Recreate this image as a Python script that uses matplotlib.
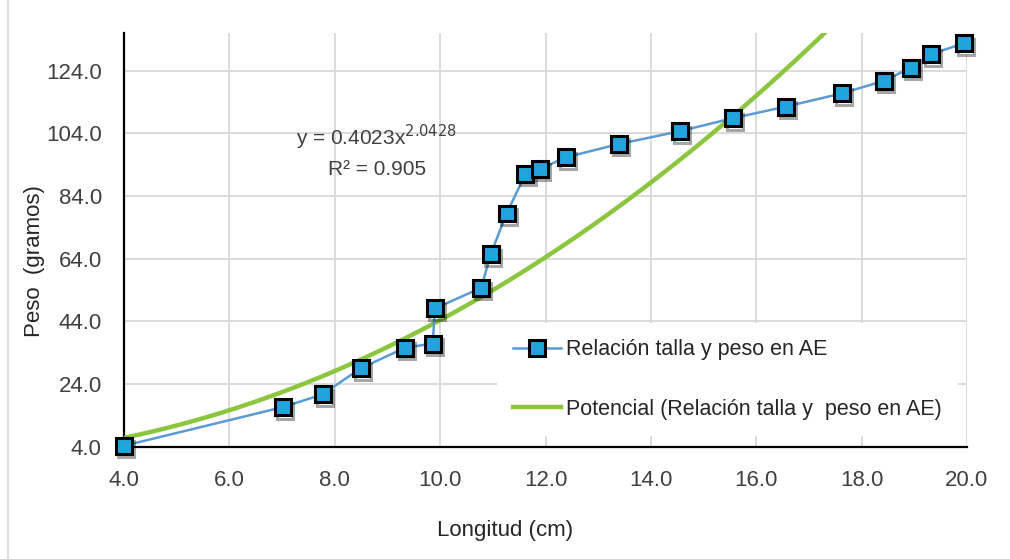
import numpy as np
import matplotlib
matplotlib.use("Agg")
import matplotlib.pyplot as plt
import matplotlib.patheffects as pe

plt.rcParams["font.family"] = ["Liberation Sans", "DejaVu Sans"]

# talla (cm) y peso (g)
longitud = [4.0, 7.01, 7.77, 8.49, 9.34, 9.86, 9.90, 10.78, 10.96, 11.26, 11.62,
            11.90, 12.38, 13.40, 14.56, 15.55, 16.56, 17.62, 18.42, 18.93, 19.31, 19.94]
peso = [4.3, 16.6, 20.7, 29.0, 35.6, 36.9, 48.1, 54.7, 65.4, 78.4, 91.0,
        92.6, 96.3, 100.6, 104.7, 108.8, 112.5, 116.7, 120.7, 124.9, 129.2, 132.7]

# linea de tendencia potencial (coeficientes mostrados en la grafica)
coef_a = 0.4023
coef_b = 2.0428

x_ticks = [4.0, 6.0, 8.0, 10.0, 12.0, 14.0, 16.0, 18.0, 20.0]
y_ticks = [4.0, 24.0, 44.0, 64.0, 84.0, 104.0, 124.0]

fig = plt.figure(figsize=(10.10, 5.59), dpi=100)
ax = fig.add_axes([0.1228, 0.2009, 0.8346, 0.7401])

xs = np.linspace(min(longitud), 20.0, 300)
ax.plot(xs, coef_a * xs ** coef_b, color="#8CC63F", lw=3.2, zorder=3,
        label="Potencial (Relación talla y  peso en AE)")

# linea de datos y marcadores por separado (sombra solo en marcadores)
ax.plot(longitud, peso, color="#5B9BD5", lw=1.8, zorder=4, clip_on=False)
ax.plot(longitud, peso, ls="none", marker="s", markersize=11.5,
        markerfacecolor="#21A4DE", markeredgecolor="black", markeredgewidth=2.2,
        zorder=5, clip_on=False,
        path_effects=[pe.SimpleLineShadow(offset=(1.5, -2.5), alpha=0.35), pe.Normal()])
# entrada de leyenda
ax.plot([], [], color="#5B9BD5", lw=1.8, marker="s", markersize=11.5,
        markerfacecolor="#21A4DE", markeredgecolor="black", markeredgewidth=2.2,
        label="Relación talla y peso en AE")

ax.set_xlim(4, 20)
ax.set_ylim(4, 136)
ax.set_xticks(x_ticks)
ax.set_yticks(y_ticks)
ax.set_xticklabels([f"{v:.1f}" for v in x_ticks])
ax.set_yticklabels([f"{v:.1f}" for v in y_ticks])
ax.tick_params(length=0, labelsize=16, labelcolor="#404040")
ax.tick_params(axis="y", pad=16)
ax.tick_params(axis="x", pad=17)
ax.grid(True, color="#D9D9D9", lw=1.3)
ax.set_axisbelow(True)
for s in ["top", "right"]:
    ax.spines[s].set_visible(False)
for s in ["left", "bottom"]:
    ax.spines[s].set_linewidth(1.6)
    ax.spines[s].set_color("black")

ax.set_xlabel("Longitud (cm)", fontsize=16, color="#262626")
ax.xaxis.set_label_coords(0.452, -0.178)
ax.set_ylabel("Peso  (gramos)", fontsize=16, color="#262626")
ax.yaxis.set_label_coords(-0.094, 0.449)

ax.text(0.3, 0.715, "y = 0.4023x$^{2.0428}$\nR² = 0.905", transform=ax.transAxes,
        ha="center", va="center", fontsize=15, color="#404040", linespacing=1.55)

handles, labels = ax.get_legend_handles_labels()
leg = ax.legend(handles[::-1], labels[::-1], loc="upper left",
                bbox_to_anchor=(0.4425, 0.299), fontsize=15.5, frameon=True,
                facecolor="white", edgecolor="none", framealpha=1, fancybox=False,
                handlelength=2.2, handletextpad=0.25, labelspacing=1.8,
                borderpad=0.75, borderaxespad=0)
leg.set_zorder(6)
for t in leg.get_texts():
    t.set_color("#262626")

fig.add_artist(plt.Line2D([0.008, 0.008], [0.0, 1.0], color="#D9D9D9", lw=1.2))

fig.savefig("out.png", dpi=100)
